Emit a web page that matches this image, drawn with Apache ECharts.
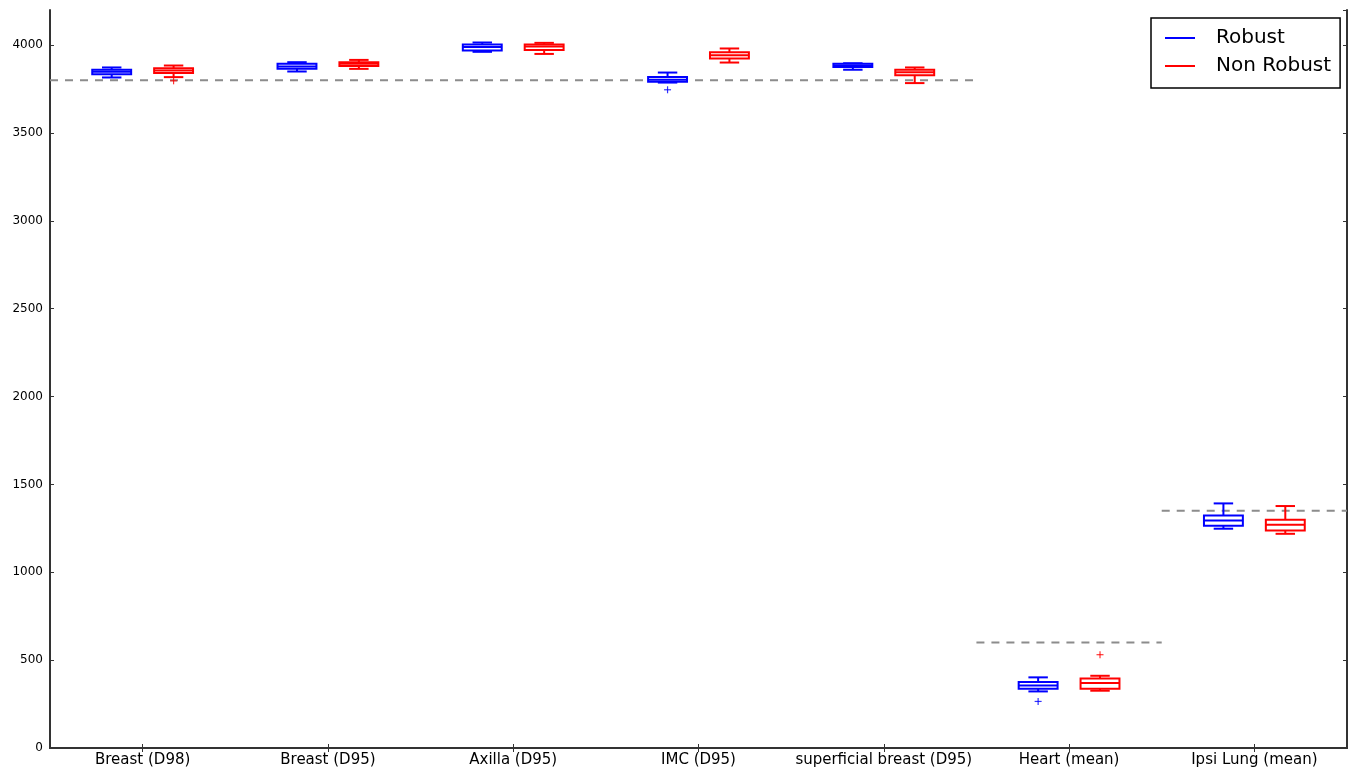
<!DOCTYPE html>
<html>
<head>
<meta charset="utf-8">
<title>Dose statistics: robust vs non robust</title>
<script src="https://cdn.jsdelivr.net/npm/echarts@6/dist/echarts.min.js"></script>
<style>
  html, body { margin: 0; padding: 0; background: #fff; }
  #chart { width: 1351px; height: 770px; }
</style>
</head>
<body>
<div id="chart"></div>
<script>
// Structures / dose metrics along the x axis
const categories = ['Breast (D98)', 'Breast (D95)', 'Axilla (D95)', 'IMC (D95)',
  'superficial breast (D95)', 'Heart (mean)', 'Ipsi Lung (mean)'];

// Box statistics per category: [min, Q1, median, Q3, max]
const robustStats = [
  [3816, 3835, 3848, 3860, 3873],
  [3850, 3865, 3878, 3894, 3903],
  [3962, 3969, 3989, 4004, 4015],
  [3787, 3791, 3803, 3818, 3844],
  [3860, 3875, 3884, 3894, 3897],
  [322, 337, 356, 376, 402],
  [1248, 1265, 1295, 1323, 1392]
];
const nonRobustStats = [
  [3818, 3841, 3856, 3869, 3884],
  [3865, 3882, 3894, 3903, 3916],
  [3950, 3973, 3992, 4004, 4013],
  [3901, 3924, 3943, 3960, 3981],
  [3784, 3829, 3846, 3860, 3873],
  [326, 337, 370, 396, 411],
  [1219, 1238, 1271, 1299, 1377]
];

// Outliers: [category index, value]
const robustOutliers = [[3, 3746], [5, 265]];
const nonRobustOutliers = [[0, 3797], [5, 531]];

// Dashed objective levels: [first category index, last category index (exclusive), level]
const objectives = [[0, 5, 3800], [5, 6, 600], [6, 7, 1350]];

// Y axis
const yMin = 0, yMax = 4200, yStep = 500;

const BLUE = '#0000ff';
const RED = '#ff0000';
const FRAME = '#333333';
const FONT = 'DejaVu Sans';

const SHIFT = 0.167;   // box centre offset from category centre (in category units)
const BOX_W = 0.21;    // box width (in category units)

function boxData(stats, shift) {
  return stats.map((s, i) => [i + 0.5 + shift].concat(s));
}
function outlierData(list, shift) {
  return list.map(o => [o[0] + 0.5 + shift, o[1]]);
}

function renderBox(params, api) {
  const x = api.value(0);
  const vMin = api.value(1), q1 = api.value(2), med = api.value(3), q3 = api.value(4), vMax = api.value(5);
  const half = api.size([BOX_W / 2, 0])[0];
  const cap = half / 2;
  const pMin = api.coord([x, vMin]);
  const pQ1 = api.coord([x, q1]);
  const pMed = api.coord([x, med]);
  const pQ3 = api.coord([x, q3]);
  const pMax = api.coord([x, vMax]);
  const color = api.visual('color');
  const style = { stroke: color, lineWidth: 2, fill: null };
  const cx = pMed[0];
  return {
    type: 'group',
    children: [
      { type: 'line', shape: { x1: cx, y1: pQ1[1], x2: cx, y2: pMin[1] }, style: style },
      { type: 'line', shape: { x1: cx, y1: pQ3[1], x2: cx, y2: pMax[1] }, style: style },
      { type: 'line', shape: { x1: cx - cap, y1: pMin[1], x2: cx + cap, y2: pMin[1] }, style: style },
      { type: 'line', shape: { x1: cx - cap, y1: pMax[1], x2: cx + cap, y2: pMax[1] }, style: style },
      { type: 'rect', shape: { x: cx - half, y: pQ3[1], width: half * 2, height: pQ1[1] - pQ3[1] },
        style: { stroke: color, lineWidth: 2, fill: '#ffffff' } },
      { type: 'line', shape: { x1: cx - half, y1: pMed[1], x2: cx + half, y2: pMed[1] }, style: style }
    ]
  };
}

function renderPlus(params, api) {
  const p = api.coord([api.value(0), api.value(1)]);
  const r = 3.5;
  const color = api.visual('color');
  const style = { stroke: color, lineWidth: 1.2, opacity: 0.8 };
  return {
    type: 'group',
    children: [
      { type: 'line', shape: { x1: p[0] - r, y1: p[1], x2: p[0] + r, y2: p[1] }, style: style },
      { type: 'line', shape: { x1: p[0], y1: p[1] - r, x2: p[0], y2: p[1] + r }, style: style }
    ]
  };
}

const objectiveSeries = objectives.map(o => ({
  type: 'line',
  xAxisIndex: 2,
  yAxisIndex: 0,
  data: [[o[0], o[2]], [o[1], o[2]]],
  symbol: 'none',
  silent: true,
  z: 1,
  lineStyle: { color: '#8c8c8c', width: 2, type: [8, 7] }
}));

const chart = echarts.init(document.getElementById('chart'), null, { renderer: 'canvas' });

chart.setOption({
  animation: false,
  backgroundColor: '#ffffff',
  textStyle: { fontFamily: FONT },
  grid: { left: 50, right: 4, top: 10, bottom: 22 },
  legend: {
    data: ['Robust', 'Non Robust'],
    orient: 'vertical',
    left: 1151,
    top: 18,
    padding: [10, 9, 12, 14],
    itemGap: 8,
    itemWidth: 30,
    itemHeight: 2,
    icon: 'rect',
    borderColor: '#000000',
    borderWidth: 1.5,
    backgroundColor: '#ffffff',
    textStyle: { fontFamily: FONT, fontSize: 20, color: '#000', lineHeight: 20, padding: [0, 0, 0, 16] }
  },
  xAxis: [
    {
      type: 'category',
      data: categories,
      position: 'bottom',
      axisLine: { show: true, lineStyle: { color: FRAME, width: 2 } },
      axisTick: { show: true, inside: true, alignWithLabel: true, length: 4, lineStyle: { color: FRAME } },
      axisLabel: { fontFamily: FONT, fontSize: 15, color: '#000', margin: 5, interval: 0 },
      splitLine: { show: false }
    },
    {
      type: 'category',
      data: categories,
      position: 'top',
      axisLine: { show: true, lineStyle: { color: FRAME, width: 2 } },
      axisTick: { show: true, inside: true, alignWithLabel: true, length: 4, lineStyle: { color: FRAME } },
      axisLabel: { show: false },
      splitLine: { show: false }
    },
    {
      type: 'value',
      min: 0,
      max: categories.length,
      show: false
    }
  ],
  yAxis: [
    {
      type: 'value',
      min: yMin,
      max: yMax,
      interval: yStep,
      position: 'left',
      axisLine: { show: true, lineStyle: { color: FRAME, width: 2 } },
      axisTick: { show: true, inside: true, length: 4, lineStyle: { color: FRAME } },
      axisLabel: {
        fontFamily: FONT, fontSize: 12, color: '#000', margin: 7, showMaxLabel: false,
        formatter: v => String(v)
      },
      splitLine: { show: false }
    },
    {
      type: 'value',
      min: yMin,
      max: yMax,
      interval: yStep,
      position: 'right',
      axisLine: { show: true, lineStyle: { color: FRAME, width: 2 } },
      axisTick: { show: true, inside: true, length: 4, lineStyle: { color: FRAME } },
      axisLabel: { show: false },
      splitLine: { show: false }
    }
  ],
  series: objectiveSeries.concat([
    {
      name: 'Robust',
      type: 'custom',
      xAxisIndex: 2,
      yAxisIndex: 0,
      itemStyle: { color: BLUE },
      encode: { x: 0, y: [1, 2, 3, 4, 5] },
      data: boxData(robustStats, -SHIFT),
      renderItem: renderBox,
      z: 3
    },
    {
      name: 'Non Robust',
      type: 'custom',
      xAxisIndex: 2,
      yAxisIndex: 0,
      itemStyle: { color: RED },
      encode: { x: 0, y: [1, 2, 3, 4, 5] },
      data: boxData(nonRobustStats, SHIFT),
      renderItem: renderBox,
      z: 3
    },
    {
      name: 'Robust outliers',
      type: 'custom',
      xAxisIndex: 2,
      yAxisIndex: 0,
      itemStyle: { color: BLUE },
      encode: { x: 0, y: 1 },
      data: outlierData(robustOutliers, -SHIFT),
      renderItem: renderPlus,
      z: 3
    },
    {
      name: 'Non Robust outliers',
      type: 'custom',
      xAxisIndex: 2,
      yAxisIndex: 0,
      itemStyle: { color: RED },
      encode: { x: 0, y: 1 },
      data: outlierData(nonRobustOutliers, SHIFT),
      renderItem: renderPlus,
      z: 3
    }
  ])
});
</script>
</body>
</html>
